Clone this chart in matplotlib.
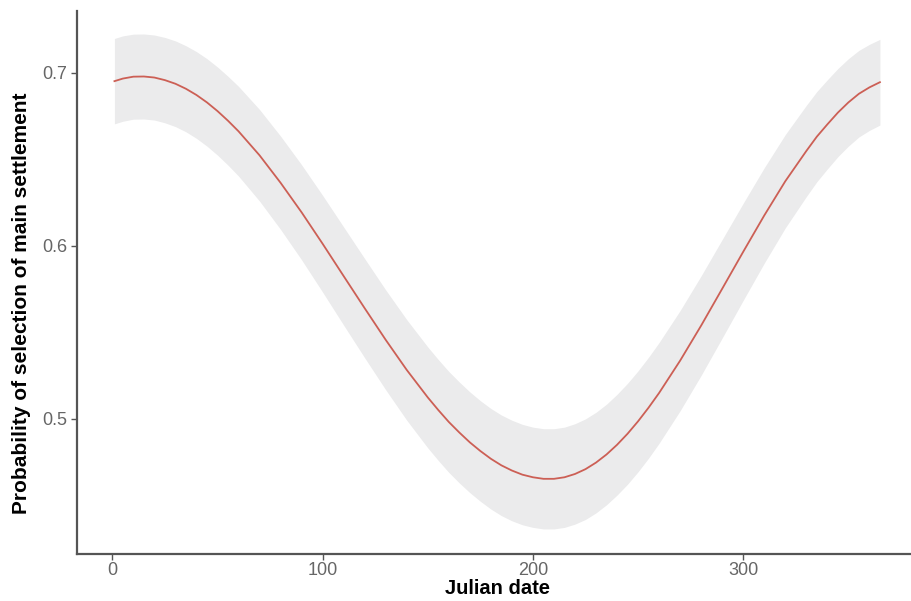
import matplotlib
matplotlib.use("Agg")
import matplotlib.pyplot as plt

julian_date = [1, 5, 10, 15, 20, 25, 30, 35, 40, 45, 50, 55, 60, 70, 80, 90, 100, 110,
               120, 130, 140, 150, 155, 160, 165, 170, 175, 180, 185, 190, 195, 200,
               205, 210, 215, 220, 225, 230, 235, 240, 245, 250, 255, 260, 270, 280,
               290, 300, 310, 320, 330, 335, 340, 345, 350, 355, 360, 365]
prob_fit = [0.6952, 0.6967, 0.6978, 0.6979, 0.6973, 0.6958, 0.6937, 0.6908, 0.6872,
            0.6829, 0.6779, 0.6723, 0.6662, 0.6523, 0.6364, 0.6193, 0.6011, 0.5824,
            0.5638, 0.5455, 0.5281, 0.5122, 0.5049, 0.4980, 0.4919, 0.4862, 0.4812,
            0.4767, 0.4729, 0.4699, 0.4675, 0.4660, 0.4651, 0.4651, 0.4660, 0.4679,
            0.4707, 0.4745, 0.4792, 0.4848, 0.4912, 0.4984, 0.5063, 0.5148, 0.5335,
            0.5538, 0.5751, 0.5965, 0.6175, 0.6373, 0.6548, 0.6631, 0.6702, 0.6770,
            0.6829, 0.6879, 0.6916, 0.6946]
prob_upper = [0.7199, 0.7214, 0.7224, 0.7225, 0.7219, 0.7205, 0.7185, 0.7157, 0.7123,
              0.7082, 0.7034, 0.6980, 0.6922, 0.6788, 0.6634, 0.6468, 0.6291, 0.6108,
              0.5925, 0.5744, 0.5572, 0.5414, 0.5341, 0.5272, 0.5211, 0.5154, 0.5103,
              0.5058, 0.5020, 0.4990, 0.4966, 0.4950, 0.4941, 0.4941, 0.4950, 0.4970,
              0.4998, 0.5036, 0.5083, 0.5140, 0.5204, 0.5276, 0.5355, 0.5440, 0.5625,
              0.5826, 0.6036, 0.6246, 0.6451, 0.6643, 0.6812, 0.6892, 0.6960, 0.7025,
              0.7082, 0.7130, 0.7165, 0.7194]
prob_lower = [0.6705, 0.6720, 0.6732, 0.6733, 0.6727, 0.6711, 0.6689, 0.6659, 0.6621,
              0.6576, 0.6524, 0.6466, 0.6403, 0.6258, 0.6094, 0.5918, 0.5731, 0.5540,
              0.5351, 0.5166, 0.4990, 0.4830, 0.4757, 0.4688, 0.4627, 0.4571, 0.4521,
              0.4476, 0.4438, 0.4408, 0.4385, 0.4370, 0.4361, 0.4361, 0.4370, 0.4389,
              0.4416, 0.4454, 0.4501, 0.4557, 0.4620, 0.4692, 0.4771, 0.4857, 0.5045,
              0.5250, 0.5466, 0.5684, 0.5899, 0.6103, 0.6284, 0.6370, 0.6444, 0.6515,
              0.6576, 0.6629, 0.6667, 0.6698]
x_ticks = [0, 100, 200, 300]
y_ticks = [0.5, 0.6, 0.7]

plt.rcParams['font.family'] = ['Liberation Sans', 'DejaVu Sans']

fig = plt.figure(figsize=(9.12, 6.01), dpi=100)
ax = fig.add_axes([77/912, 47/601, 833/912, 543/601])

ax.fill_between(julian_date, prob_lower, prob_upper, color='#ebebec', linewidth=0)
ax.plot(julian_date, prob_fit, color='#cc5f55', linewidth=1.3, solid_joinstyle='round')

ax.set_xlim(-16.8, 379.3)
ax.set_ylim(0.4216, 0.7358)
ax.set_xticks(x_ticks)
ax.set_xticklabels([str(t) for t in x_ticks])
ax.set_yticks(y_ticks)
ax.set_yticklabels([f"{t:.1f}" for t in y_ticks])

for s in ['top', 'right']:
    ax.spines[s].set_visible(False)
for s in ['left', 'bottom']:
    ax.spines[s].set_color('#555555')
    ax.spines[s].set_linewidth(1.6)

ax.tick_params(axis='both', colors='#555555', labelcolor='#666666', labelsize=13,
               length=4, width=1.0)
ax.tick_params(axis='x', pad=2)
ax.tick_params(axis='y', pad=3)

ax.set_xlabel('Julian date', fontsize=14.5, fontweight='bold', color='black')
ax.xaxis.set_label_coords(0.505, -0.046)
ax.set_ylabel('Probability of selection of main settlement', fontsize=15,
              fontweight='bold', color='black')
ax.yaxis.set_label_coords(-0.055, 0.462)

fig.savefig('out.png', dpi=100, facecolor='white')
